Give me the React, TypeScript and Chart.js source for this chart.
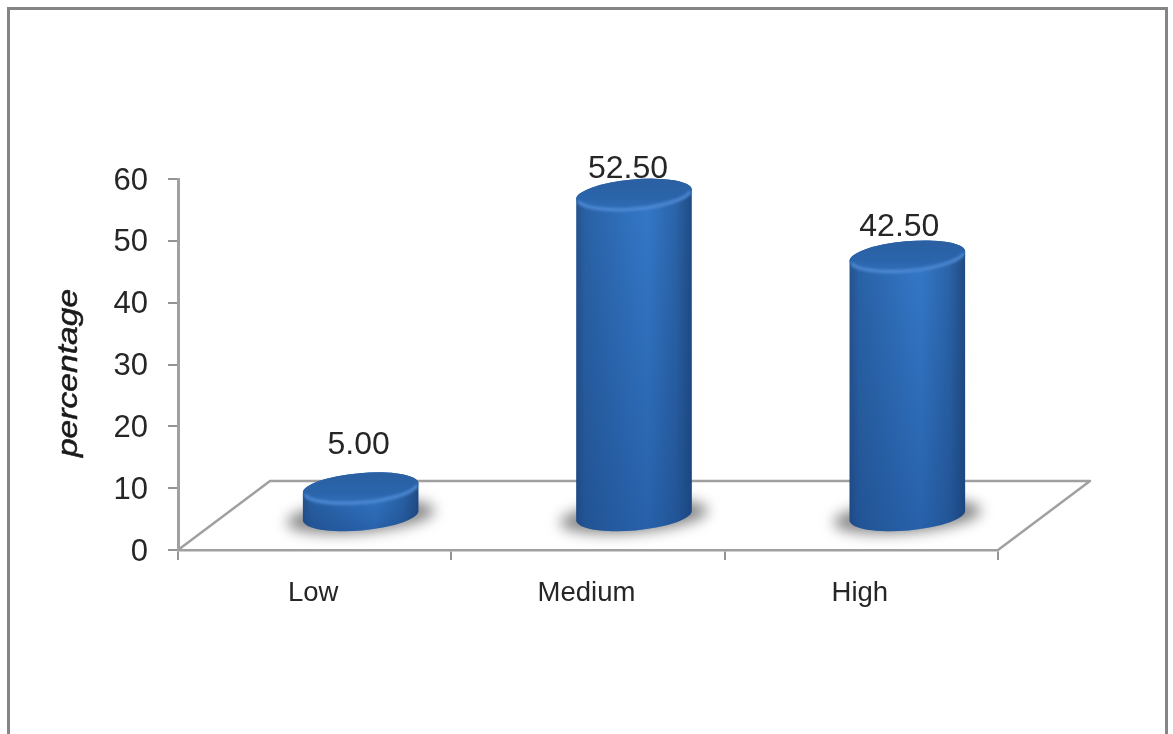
import React, { useEffect, useRef } from "react";
import { Chart, registerables } from "chart.js";

Chart.register(...registerables);

const categories = ["Low", "Medium", "High"];
const percentages = [5, 52.5, 42.5];
const yTicks = [0, 10, 20, 30, 40, 50, 60];
const yAxisTitle = "percentage";

const FONT = '"Liberation Sans", Arial, sans-serif';
const AXIS_GREY = "#a0a0a0";
const TICK_GREY = "#949494";
const TEXT = "#262626";
// Floor depth of the 3D box, in pixels
const DEPTH_X = 92;
const DEPTH_Y = 69;
const RX = 58;
const RY = 15;
const TILT = (-5 * Math.PI) / 180;
const TOP_LIFT = 31;
// Value labels sit a little off their cylinder's axis
const labelNudges = [
  [-2, -43],
  [-6, -25],
  [-8, -29],
];

const cylinderPlugin = {
  id: "cylinders",
  beforeDatasetsDraw(chart: any) {
    const { ctx, scales } = chart;
    const x = scales.x;
    const y = scales.y;
    const y0 = y.getPixelForValue(0);
    const l = x.left;
    const r = x.right;

    ctx.save();
    // outer frame of the chart object
    ctx.strokeStyle = "#858585";
    ctx.lineWidth = 3;
    ctx.strokeRect(8.5, 8.5, chart.width - 15, chart.height + 60);

    // floor parallelogram
    ctx.strokeStyle = AXIS_GREY;
    ctx.lineWidth = 2.5;
    ctx.lineJoin = "round";
    ctx.beginPath();
    ctx.moveTo(l, y0);
    ctx.lineTo(l + DEPTH_X, y0 - DEPTH_Y);
    ctx.lineTo(r + DEPTH_X, y0 - DEPTH_Y);
    ctx.lineTo(r, y0);
    ctx.stroke();
    ctx.restore();
  },
  afterDatasetsDraw(chart: any) {
    const { ctx, scales } = chart;
    const y = scales.y;
    const baseY = y.getPixelForValue(0) - DEPTH_Y / 2;
    const meta = chart.getDatasetMeta(0);

    percentages.forEach((v, i) => {
      const cx = meta.data[i].x + DEPTH_X / 2;
      const topY = y.getPixelForValue(v) - TOP_LIFT;
      const sin = Math.sin(TILT);
      const cos = Math.cos(TILT);

      // soft contact shadow on the floor
      ctx.save();
      ctx.filter = "blur(7px)";
      ctx.fillStyle = "rgba(105,105,105,0.8)";
      ctx.beginPath();
      ctx.ellipse(cx, baseY + 1, RX + 16, RY + 1, TILT, 0, Math.PI * 2);
      ctx.fill();
      ctx.restore();

      // cylinder wall
      const wall = ctx.createLinearGradient(cx - RX, 0, cx + RX, 0);
      wall.addColorStop(0, "#24528c");
      wall.addColorStop(0.08, "#2a62a6");
      wall.addColorStop(0.5, "#3274c2");
      wall.addColorStop(0.62, "#3478c8");
      wall.addColorStop(0.86, "#2b64a9");
      wall.addColorStop(1, "#204b82");
      ctx.save();
      ctx.beginPath();
      ctx.ellipse(cx, baseY, RX, RY, TILT, 0, Math.PI);
      ctx.lineTo(cx - RX * cos, topY - RX * sin);
      ctx.ellipse(cx, topY, RX, RY, TILT, Math.PI, 0, false);
      ctx.closePath();
      ctx.fillStyle = wall;
      ctx.fill();
      ctx.clip();
      // the wall darkens from the cap down to its foot
      const shade = ctx.createLinearGradient(0, topY, 0, baseY + RY);
      shade.addColorStop(0, "rgba(20,60,120,0)");
      shade.addColorStop(1, "rgba(20,60,120,0.38)");
      ctx.fillStyle = shade;
      ctx.fillRect(cx - RX - 2, topY - RY, RX * 2 + 4, baseY - topY + 2 * RY + 2);
      ctx.restore();

      // top cap
      const cap = ctx.createLinearGradient(cx, topY - RY, cx, topY + RY);
      cap.addColorStop(0, "#2b60a2");
      cap.addColorStop(0.6, "#2a64aa");
      cap.addColorStop(1, "#2f6db8");
      ctx.beginPath();
      ctx.ellipse(cx, topY, RX, RY, TILT, 0, Math.PI * 2);
      ctx.fillStyle = cap;
      ctx.fill();

      // soft lit rim along the front of the cap
      ctx.save();
      ctx.filter = "blur(1.5px)";
      ctx.beginPath();
      ctx.ellipse(cx, topY, RX - 1, RY - 0.5, TILT, 0.15, Math.PI - 0.15);
      ctx.strokeStyle = "rgba(85,145,220,0.9)";
      ctx.lineWidth = 3;
      ctx.stroke();
      ctx.restore();

      // value label
      const [nx, ny] = labelNudges[i];
      ctx.save();
      ctx.fillStyle = TEXT;
      ctx.font = `32px ${FONT}`;
      ctx.textAlign = "center";
      ctx.textBaseline = "middle";
      ctx.fillText(v.toFixed(2), cx + nx, topY + ny);
      ctx.restore();
    });
  },
  afterDraw(chart: any) {
    // rotated y-axis caption, drawn wide like a stretched chart object
    const { ctx } = chart;
    ctx.save();
    ctx.translate(69, 373);
    ctx.rotate(-Math.PI / 2);
    ctx.scale(1.2, 1);
    ctx.fillStyle = "#1a1a1a";
    ctx.font = `italic 28px ${FONT}`;
    ctx.textAlign = "center";
    ctx.textBaseline = "middle";
    ctx.fillText(yAxisTitle, 0, 0);
    ctx.strokeStyle = "#1a1a1a";
    ctx.lineWidth = 0.5;
    ctx.strokeText(yAxisTitle, 0, 0);
    ctx.restore();
  },
};

export default function App() {
  const ref = useRef<HTMLCanvasElement>(null);

  useEffect(() => {
    const chart = new Chart(ref.current!, {
      type: "bar",
      data: {
        labels: categories,
        datasets: [
          {
            data: percentages,
            backgroundColor: "rgba(0,0,0,0)",
            borderWidth: 0,
          },
        ],
      },
      options: {
        responsive: false,
        animation: false,
        devicePixelRatio: 1,
        layout: { padding: { top: 179, right: 175, left: 0, bottom: 0 } },
        plugins: { legend: { display: false }, tooltip: { enabled: false } },
        scales: {
          x: {
            grid: {
              color: TICK_GREY,
              lineWidth: 2,
              drawOnChartArea: false,
              tickLength: 10,
            },
            border: { color: AXIS_GREY, width: 2.5 },
            ticks: {
              color: TEXT,
              padding: 17,
              labelOffset: -1.5,
              maxRotation: 0,
              font: { family: FONT, size: 27.5 },
            },
            afterFit(scale: any) {
              scale.height = 184;
            },
          },
          y: {
            min: 0,
            max: 60,
            afterBuildTicks(scale: any) {
              scale.ticks = yTicks.map((value) => ({ value }));
            },
            grid: {
              color: TICK_GREY,
              lineWidth: 2,
              drawOnChartArea: false,
              tickLength: 10,
            },
            border: { color: AXIS_GREY, width: 3 },
            ticks: {
              color: TEXT,
              padding: 20,
              labelOffset: 2,
              font: { family: FONT, size: 31 },
            },
            afterFit(scale: any) {
              scale.width = 178;
            },
          },
        },
      },
      plugins: [cylinderPlugin],
    } as any);
    return () => chart.destroy();
  }, []);

  return (
    <div style={{ position: "fixed", left: 0, top: 0, width: 1173, height: 734, overflow: "hidden", background: "#fff" }}>
      <canvas ref={ref} width={1173} height={734} style={{ display: "block" }} />
    </div>
  );
}
